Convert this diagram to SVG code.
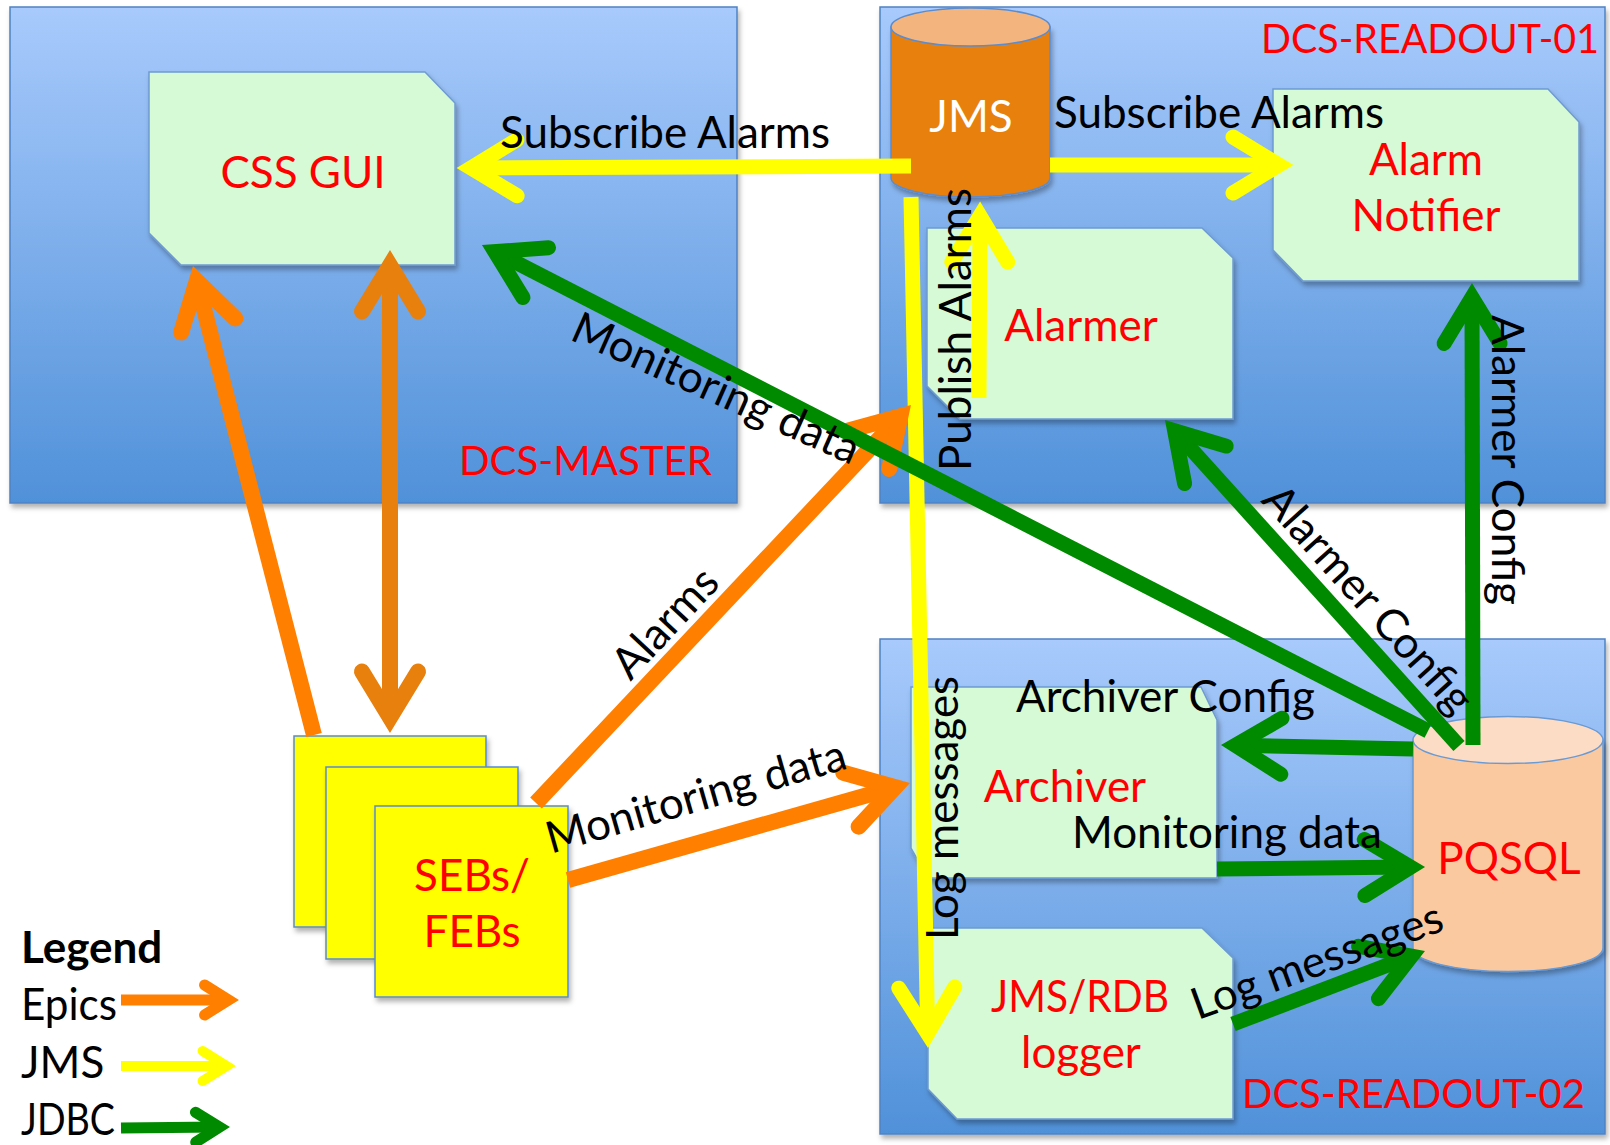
<svg xmlns="http://www.w3.org/2000/svg" width="1610" height="1145" viewBox="0 0 1610 1145">
<defs>
<linearGradient id="gPanel" x1="0" y1="0" x2="0" y2="1">
<stop offset="0" stop-color="#a8cafc"/>
<stop offset="1" stop-color="#5091d9"/>
</linearGradient>
<filter id="sh" x="-5%" y="-5%" width="110%" height="115%">
<feDropShadow dx="2" dy="4" stdDeviation="2.5" flood-color="#000" flood-opacity="0.3"/>
</filter>
<marker id="aO" markerUnits="userSpaceOnUse" orient="auto-start-reverse" overflow="visible" markerWidth="1" markerHeight="1">
<path d="M-46,-28 L0,0 L-46,28" fill="none" stroke="#ff7f00" stroke-width="16" stroke-linecap="round" stroke-miterlimit="10"/>
</marker>
<marker id="aO2" markerUnits="userSpaceOnUse" orient="auto-start-reverse" overflow="visible" markerWidth="1" markerHeight="1">
<path d="M-46,-28 L0,0 L-46,28" fill="none" stroke="#e8800e" stroke-width="16" stroke-linecap="round" stroke-miterlimit="10"/>
</marker>
<marker id="aY" markerUnits="userSpaceOnUse" orient="auto" overflow="visible" markerWidth="1" markerHeight="1">
<path d="M-46,-28 L0,0 L-46,28" fill="none" stroke="#ffff00" stroke-width="15" stroke-linecap="round" stroke-miterlimit="10"/>
</marker>
<marker id="aG" markerUnits="userSpaceOnUse" orient="auto" overflow="visible" markerWidth="1" markerHeight="1">
<path d="M-46,-28 L0,0 L-46,28" fill="none" stroke="#008a00" stroke-width="15" stroke-linecap="round" stroke-miterlimit="10"/>
</marker>
<marker id="lO" markerUnits="userSpaceOnUse" orient="auto" overflow="visible" markerWidth="1" markerHeight="1">
<path d="M-24,-15 L0,0 L-24,15" fill="none" stroke="#ff7f00" stroke-width="11" stroke-linecap="round" stroke-miterlimit="10"/>
</marker>
<marker id="lY" markerUnits="userSpaceOnUse" orient="auto" overflow="visible" markerWidth="1" markerHeight="1">
<path d="M-24,-15 L0,0 L-24,15" fill="none" stroke="#ffff00" stroke-width="10" stroke-linecap="round" stroke-miterlimit="10"/>
</marker>
<marker id="lG" markerUnits="userSpaceOnUse" orient="auto" overflow="visible" markerWidth="1" markerHeight="1">
<path d="M-24,-15 L0,0 L-24,15" fill="none" stroke="#008a00" stroke-width="11" stroke-linecap="round" stroke-miterlimit="10"/>
</marker>
</defs>
<style>
.panel{fill:url(#gPanel);stroke:#4f82c4;stroke-width:1.5;filter:url(#sh)}
.box{fill:#d5fad5;stroke:#6e9bd2;stroke-width:1.5;filter:url(#sh)}
.seb{fill:#ffff00;stroke:#5a8ad0;stroke-width:1.5;filter:url(#sh)}
.t{font-family:Lato,"Liberation Sans",sans-serif;font-size:44px;fill:#000}
.pt{font-size:40px}
.r{fill:#ff0000}
.w{fill:#ffffff}
.b{font-weight:bold}
.m{text-anchor:middle}
.cO{fill:none;stroke:#ff7f00;stroke-width:16}
.cO2{fill:none;stroke:#e8800e;stroke-width:16}
.cY{fill:none;stroke:#ffff00;stroke-width:15}
.cG{fill:none;stroke:#008a00;stroke-width:15}
</style>
<rect width="1610" height="1145" fill="#ffffff"/>

<g id="panel-dcs-master">
<rect class="panel" x="10" y="7" width="727" height="496"/>
<text class="t pt r" x="459" y="475" textLength="253" lengthAdjust="spacingAndGlyphs">DCS-MASTER</text>
</g>
<g id="panel-dcs-readout-01">
<rect class="panel" x="880" y="7" width="725" height="496"/>
<text class="t pt r" x="1261" y="53" textLength="338" lengthAdjust="spacingAndGlyphs">DCS-READOUT-01</text>
</g>
<g id="panel-dcs-readout-02">
<rect class="panel" x="880" y="639" width="725" height="495"/>
<text class="t pt r" x="1242" y="1108" textLength="343" lengthAdjust="spacingAndGlyphs">DCS-READOUT-02</text>
</g>

<g id="node-css-gui">
<path class="box" d="M149,72 L425,72 L455,103 L455,265 L181,265 L149,233 Z"/>
<text class="t r m" x="303" y="188">CSS GUI</text>
</g>
<g id="node-jms">
<path d="M891,27 L891,178 A79.5,19 0 0 0 1050,178 L1050,27 Z" fill="#e8800a" stroke="#5b8ccf" stroke-width="1.5" filter="url(#sh)"/>
<ellipse cx="970.5" cy="27" rx="79.5" ry="19" fill="#f3b57d" stroke="#5b8ccf" stroke-width="1.5"/>
<text class="t w m" x="971" y="132">JMS</text>
</g>
<g id="node-alarm-notifier">
<path class="box" d="M1273,89 L1548,89 L1579,122 L1579,281 L1303,281 L1273,250 Z"/>
<text class="t r m" x="1426" y="175">Alarm</text>
<text class="t r m" x="1426" y="231">Notifier</text>
</g>
<g id="node-alarmer">
<path class="box" d="M927,228 L1202,228 L1233,258 L1233,419 L960,419 L927,386 Z"/>
<text class="t r m" x="1081" y="341">Alarmer</text>
</g>
<g id="node-archiver">
<path class="box" d="M911,687 L1201,687 L1217,720 L1217,878 L928,878 L911,848 Z"/>
<text class="t r m" x="1065" y="802">Archiver</text>
</g>
<g id="node-jms-rdb-logger">
<path class="box" d="M928,928 L1202,928 L1233,958 L1233,1119 L957,1119 L928,1089 Z"/>
<text class="t r m" x="1080" y="1012" textLength="178" lengthAdjust="spacingAndGlyphs">JMS/RDB</text>
<text class="t r m" x="1081" y="1068">logger</text>
</g>
<g id="node-pqsql">
<path d="M1413,740 L1413,948 A95,23.5 0 0 0 1603,948 L1603,740 Z" fill="#fbc99f" stroke="#6a9ad4" stroke-width="1.5" filter="url(#sh)"/>
<ellipse cx="1508" cy="740" rx="95" ry="23.5" fill="#fddcc5" stroke="#6a9ad4" stroke-width="1.5"/>
<text class="t r m" x="1509" y="874">PQSQL</text>
</g>
<g id="node-sebs-febs">
<rect class="seb" x="294" y="736" width="192" height="191"/>
<rect class="seb" x="326" y="767" width="192" height="192"/>
<rect class="seb" x="375" y="806" width="193" height="191"/>
<text class="t r m" x="472" y="891">SEBs/</text>
<text class="t r m" x="472" y="947">FEBs</text>
</g>

<g id="connectors">
<path class="cY" d="M911,166 L471,168" marker-end="url(#aY)"/>
<path class="cY" d="M1050,165 L1279,165" marker-end="url(#aY)"/>
<path class="cY" d="M979,398 L980,216" marker-end="url(#aY)"/>
<path class="cY" d="M911,197 L927.7,1033.6" marker-end="url(#aY)"/>
<path class="cO" d="M314,735 L196.8,280.9" marker-end="url(#aO)"/>
<path class="cO2" d="M390,717.6 L390,265.4" marker-start="url(#aO2)" marker-end="url(#aO2)"/>
<path class="cO" d="M536,803 L900.4,416.2" marker-end="url(#aO)"/>
<path class="cO" d="M568,880 L895.2,787.2" marker-end="url(#aO)"/>
<path class="cG" d="M1428,731 L494.8,251.6" marker-end="url(#aG)"/>
<path class="cG" d="M1459,746 L1174.6,430.7" marker-end="url(#aG)"/>
<path class="cG" d="M1473,745 L1472,297.4" marker-end="url(#aG)"/>
<path class="cG" d="M1413,749 L1235.4,745.3" marker-end="url(#aG)"/>
<path class="cG" d="M1217,869 L1410.6,867.1" marker-end="url(#aG)"/>
<path class="cG" d="M1233,1024 L1411.5,956.1" marker-end="url(#aG)"/>
</g>

<g id="connector-labels">
<text class="t" x="500" y="148">Subscribe Alarms</text>
<text class="t" x="1054" y="128">Subscribe Alarms</text>
<text class="t" transform="translate(971,471) rotate(-90)">Publish Alarms</text>
<text class="t" transform="translate(958,940) rotate(-90)">Log messages</text>
<text class="t" transform="translate(1492,315) rotate(90)">Alarmer Config</text>
<text class="t m" transform="translate(710,402) rotate(24)">Monitoring data</text>
<text class="t m" transform="translate(676,633) rotate(-47)">Alarms</text>
<text class="t m" transform="translate(700,811) rotate(-16)">Monitoring data</text>
<text class="t m" transform="translate(1322,975) rotate(-20)">Log messages</text>
<text class="t m" transform="translate(1357,609) rotate(48)">Alarmer Config</text>
<text class="t" x="1016" y="712">Archiver Config</text>
<text class="t" x="1072" y="848">Monitoring data</text>
</g>

<g id="legend">
<text class="t b" x="21" y="963">Legend</text>
<text class="t" x="21" y="1020" textLength="96" lengthAdjust="spacingAndGlyphs">Epics</text>
<text class="t" x="21" y="1078">JMS</text>
<text class="t" x="21" y="1135" textLength="94" lengthAdjust="spacingAndGlyphs">JDBC</text>
<path class="cO" style="stroke-width:11" d="M121,1000 L228.6,1000" marker-end="url(#lO)"/>
<path class="cY" style="stroke-width:10" d="M121,1066 L226.6,1066" marker-end="url(#lY)"/>
<path class="cG" style="stroke-width:11" d="M121,1128 L219.6,1127" marker-end="url(#lG)"/>
</g>
</svg>
